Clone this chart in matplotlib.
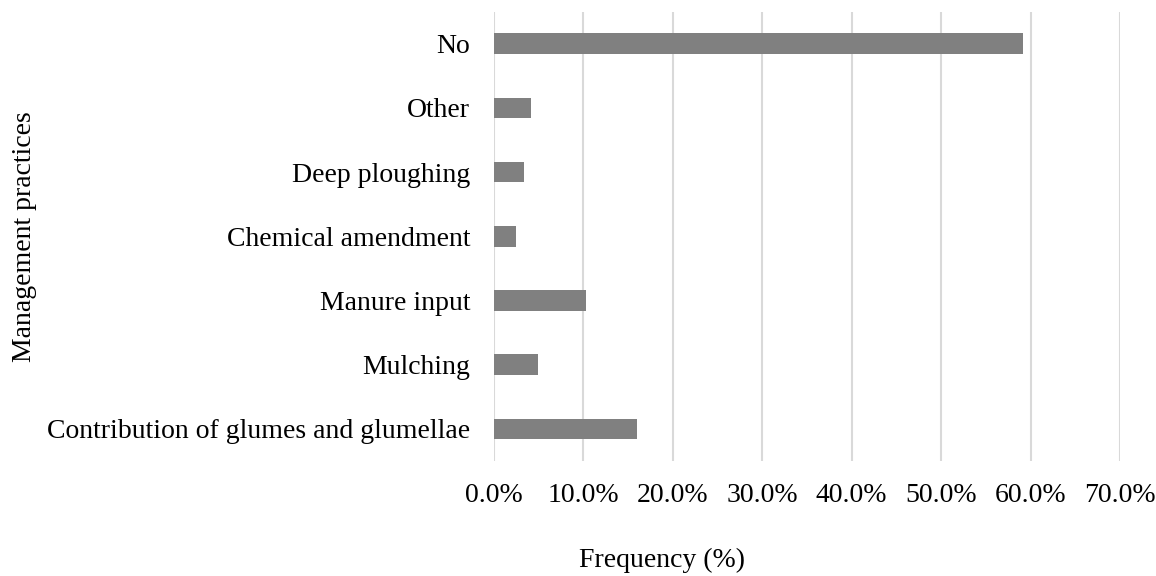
import numpy as np
import matplotlib.pyplot as plt

plt.rcParams['font.family'] = ['Liberation Serif', 'DejaVu Serif']

# Data (bottom to top as drawn)
practices = ['Contribution of glumes and glumellae', 'Mulching', 'Manure input',
             'Chemical amendment', 'Deep ploughing', 'Other', 'No']
frequency = [16.0, 4.96, 10.3, 2.5, 3.32, 4.14, 59.1]
xticks = [0, 10, 20, 30, 40, 50, 60, 70]

fig = plt.figure(figsize=(11.56, 5.76), dpi=100)
ax = fig.add_axes([0.4273, 0.1997, 0.5416, 0.7803])

y = np.arange(len(practices))
ax.barh(y, frequency, height=0.32, color='#808080', zorder=3)

ax.set_xlim(0, 70)
ax.set_ylim(-0.5, len(practices) - 0.5)
ax.set_xticks(xticks)
ax.set_xticklabels([f'{v:.1f}%' for v in xticks])
ax.set_yticks(y)
ax.set_yticklabels(practices)
ax.tick_params(axis='both', length=0, labelsize=20)
ax.tick_params(axis='x', pad=16)
ax.tick_params(axis='y', pad=17)

ax.grid(axis='x', color='#d9d9d9', linewidth=1.5, zorder=0)
for s in ax.spines.values():
    s.set_visible(False)

fig.text(0.573, 0.0156, 'Frequency (%)', fontsize=20, ha='center', va='baseline')
fig.text(0.021, 0.59, 'Management practices', rotation=90, fontsize=20,
         ha='center', va='center')

fig.savefig('out.png', dpi=100)
